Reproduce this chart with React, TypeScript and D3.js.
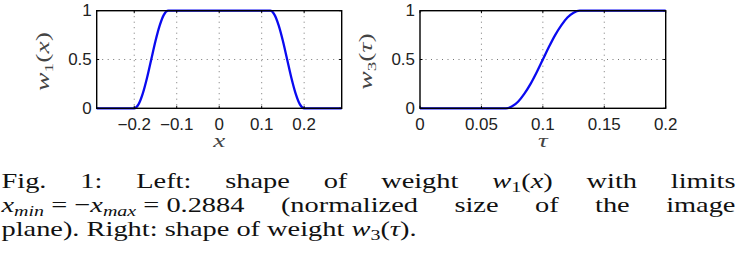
import React, { useEffect, useRef } from 'react';
import * as d3 from 'd3';

const W = 738;
const H = 258;

// left panel: w1(x)
const w1X = [-0.2884, -0.2, -0.19, -0.18, -0.17, -0.16, -0.15, -0.14, -0.13, -0.12, 0.12, 0.13, 0.14, 0.15, 0.16, 0.17, 0.18, 0.19, 0.2, 0.2884];
const w1Y = [0, 0, 0.04, 0.15, 0.31, 0.5, 0.69, 0.85, 0.96, 1, 1, 0.96, 0.85, 0.69, 0.5, 0.31, 0.15, 0.04, 0, 0];
const w1XTicks = [-0.2, -0.1, 0, 0.1, 0.2];
const w1Domain = [-0.2884, 0.2884];

// right panel: w3(tau)
const w3X = [0, 0.07, 0.075, 0.08, 0.085, 0.09, 0.095, 0.1, 0.105, 0.11, 0.115, 0.12, 0.125, 0.13, 0.2];
const w3Y = [0, 0, 0.02, 0.07, 0.15, 0.25, 0.37, 0.5, 0.63, 0.75, 0.85, 0.93, 0.98, 1, 1];
const w3XTicks = [0, 0.05, 0.1, 0.15, 0.2];
const w3Domain = [0, 0.2];

const yTicks = [0, 0.5, 1];

type Seg = { t: string; it?: boolean; sub?: boolean };

// caption, word by word (math pieces as segments)
const captionLines: Seg[][][] = [
  [
    [{ t: 'Fig.' }], [{ t: '1:' }], [{ t: 'Left:' }], [{ t: 'shape' }], [{ t: 'of' }], [{ t: 'weight' }],
    [{ t: 'w', it: true }, { t: '1', sub: true }, { t: '(' }, { t: 'x', it: true }, { t: ')' }],
    [{ t: 'with' }], [{ t: 'limits' }],
  ],
  [
    [
      { t: 'x', it: true }, { t: 'min', it: true, sub: true }, { t: '\u00a0=\u00a0−' },
      { t: 'x', it: true }, { t: 'max', it: true, sub: true }, { t: '\u00a0=\u00a00.2884' },
    ],
    [{ t: '(normalized' }], [{ t: 'size' }], [{ t: 'of' }], [{ t: 'the' }], [{ t: 'image' }],
  ],
  [
    [{ t: 'plane).' }], [{ t: 'Right:' }], [{ t: 'shape' }], [{ t: 'of' }], [{ t: 'weight' }],
    [{ t: 'w', it: true }, { t: '3', sub: true }, { t: '(' }, { t: 'τ', it: true }, { t: ').' }],
  ],
];

const fmt = (v: number) => String(v).replace('-', '−');

const App = () => {
  const svgRef = useRef<SVGSVGElement>(null);

  useEffect(() => {
    const svg = d3.select(svgRef.current);
    svg.selectAll('*').remove();
    svg.append('rect').attr('width', W).attr('height', H).attr('fill', 'white');

    const top = 10.7;
    const bottom = 108.3;
    // the reference is stretched sideways, so the glyphs are too
    const tickSx = 1.06;
    const labSx = 1.42;

    const drawPanel = (
      x0: number, x1: number, domain: number[], xs: number[], ys: number[], ticks: number[],
      xLabel: string, yMain: string, ySub: string, yArg: string,
    ) => {
      const x = d3.scaleLinear().domain(domain).range([x0, x1]);
      const y = d3.scaleLinear().domain([0, 1]).range([bottom, top]);
      const g = svg.append('g');

      // dotted grid
      const grid = g.append('g').attr('stroke', '#666').attr('stroke-width', 0.9).attr('stroke-dasharray', '1,4.5');
      grid.selectAll('line.vx').data(ticks.filter(t => t > domain[0] && t < domain[1])).join('line')
        .attr('x1', d => x(d)).attr('x2', d => x(d)).attr('y1', top).attr('y2', bottom);
      grid.selectAll('line.hy').data([0.5]).join('line')
        .attr('x1', x0).attr('x2', x1).attr('y1', d => y(d)).attr('y2', d => y(d));

      // curve
      const pts = xs.map((v, i) => [v, ys[i]] as [number, number]);
      g.append('path')
        .attr('d', d3.line<[number, number]>().x(d => x(d[0])).y(d => y(d[1])).curve(d3.curveMonotoneX)(pts))
        .attr('fill', 'none').attr('stroke', '#0a0af0').attr('stroke-width', 2.3)
        .attr('stroke-linejoin', 'round');

      // inner ticks
      const tk = g.append('g').attr('stroke', '#000').attr('stroke-width', 1);
      ticks.forEach(t => {
        tk.append('line').attr('x1', x(t)).attr('x2', x(t)).attr('y1', bottom).attr('y2', bottom - 2.5);
        tk.append('line').attr('x1', x(t)).attr('x2', x(t)).attr('y1', top).attr('y2', top + 2.5);
      });
      yTicks.forEach(t => {
        tk.append('line').attr('x1', x0).attr('x2', x0 + 2.5).attr('y1', y(t)).attr('y2', y(t));
        tk.append('line').attr('x1', x1).attr('x2', x1 - 2.5).attr('y1', y(t)).attr('y2', y(t));
      });

      // box
      g.append('rect').attr('x', x0).attr('y', top).attr('width', x1 - x0).attr('height', bottom - top)
        .attr('fill', 'none').attr('stroke', '#000').attr('stroke-width', 1.4);

      // tick labels
      const lab = g.append('g').attr('font-family', '"Liberation Sans", Arial, sans-serif')
        .attr('font-size', 16).attr('fill', '#222');
      lab.selectAll('text.xt').data(ticks).join('text')
        .attr('transform', d => `translate(${x(d)},130) scale(${tickSx},1)`)
        .attr('text-anchor', 'middle').text(d => fmt(d));
      lab.selectAll('text.yt').data(yTicks).join('text')
        .attr('transform', d => `translate(${x0 - 5},${y(d)}) scale(${tickSx},1)`)
        .attr('dy', '0.36em').attr('text-anchor', 'end').text(d => fmt(d));

      // axis labels
      g.append('text')
        .attr('transform', `translate(${x((domain[0] + domain[1]) / 2)},146.5) scale(${labSx},1)`)
        .attr('text-anchor', 'middle').attr('font-family', '"Liberation Serif", serif')
        .attr('font-style', 'italic').attr('font-size', 19).attr('fill', '#444').text(xLabel);

      const yl = g.append('text').attr('transform', `translate(${x0 - 48},61.5) rotate(-90) scale(${labSx},1)`)
        .attr('text-anchor', 'middle').attr('font-family', '"Liberation Serif", serif')
        .attr('font-size', 19.5).attr('fill', '#444');
      yl.append('tspan').attr('font-style', 'italic').text(yMain);
      yl.append('tspan').attr('font-size', 13.5).attr('dy', 4).text(ySub);
      yl.append('tspan').attr('dy', -4).text('(');
      yl.append('tspan').attr('font-style', 'italic').text(yArg);
      yl.append('tspan').text(')');
    };

    drawPanel(96.7, 341.7, w1Domain, w1X, w1Y, w1XTicks, 'x', 'w', '1', 'x');
    drawPanel(420, 665.7, w3Domain, w3X, w3Y, w3XTicks, 'τ', 'w', '3', 'τ');

    // caption, justified; widths measured from the rendered svg text
    const fs = 22;
    const subFs = 15.5;
    const capSx = 1.29;
    const left = 1.5;
    const right = 735.5;
    const baselines = [187.5, 211.5, 235.5];
    const cap = svg.append('g').attr('fill', '#111').attr('font-family', '"Liberation Serif", serif');

    const probe = cap.append('text').attr('font-size', fs).text('a\u00a0a');
    const probe2 = cap.append('text').attr('font-size', fs).text('aa');
    const spaceW = ((probe.node() as SVGTextElement).getComputedTextLength()
      - (probe2.node() as SVGTextElement).getComputedTextLength()) * capSx;
    probe.remove();
    probe2.remove();

    captionLines.forEach((line, li) => {
      const words = line.map(word => word.map(s => {
        const el = cap.append('text')
          .attr('font-size', s.sub ? subFs : fs)
          .attr('font-style', s.it ? 'italic' : 'normal')
          .text(s.t);
        const w = (el.node() as SVGTextElement).getComputedTextLength() * capSx;
        return { s, el, w };
      }));
      const widths = words.map(w => d3.sum(w, d => d.w));
      const last = li === captionLines.length - 1;
      const gap = last ? spaceW : (right - left - d3.sum(widths)) / (line.length - 1);
      let cx = left;
      words.forEach((word, wi) => {
        let sx = cx;
        word.forEach(({ s, el, w }) => {
          el.attr('transform', `translate(${sx},${baselines[li] + (s.sub ? 4 : 0)}) scale(${capSx},1)`);
          sx += w;
        });
        cx += widths[wi] + gap;
      });
    });
  }, []);

  return (
    <svg ref={svgRef} width={W} height={H} style={{ position: 'absolute', left: 0, top: 0 }} />
  );
};

export default App;
